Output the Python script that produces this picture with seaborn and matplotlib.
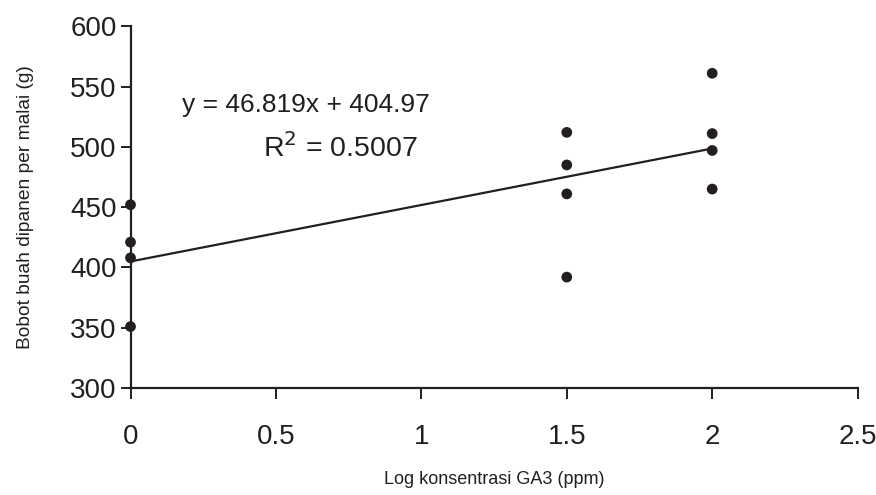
import numpy as np
import pandas as pd
import matplotlib
matplotlib.use("Agg")
import matplotlib.pyplot as plt
import seaborn as sns

# data
log_ga3 = [0, 0, 0, 0, 1.5, 1.5, 1.5, 1.5, 2, 2, 2, 2]
bobot = [452, 421, 408, 351, 512, 485, 461, 392, 561, 511, 497, 465]
slope = 46.819
intercept = 404.97
r_squared = 0.5007
x_ticks = [0, 0.5, 1, 1.5, 2, 2.5]
x_tick_labels = ["0", "0.5", "1", "1.5", "2", "2.5"]
y_ticks = [300, 350, 400, 450, 500, 550, 600]

sns.set_style("ticks")
plt.rcParams["font.family"] = ["Liberation Sans", "DejaVu Sans"]
ink = "#231f20"

df = pd.DataFrame({"x": log_ga3, "y": bobot})
fit_x = np.array([min(log_ga3), max(log_ga3)])
fit = pd.DataFrame({"x": fit_x, "y": slope * fit_x + intercept})

fig = plt.figure(figsize=(8.76, 4.95), dpi=100)
ax = fig.add_axes([0.149, 0.216, 0.830, 0.731])

sns.lineplot(data=fit, x="x", y="y", ax=ax, color=ink, linewidth=1.6, zorder=2)
sns.scatterplot(data=df, x="x", y="y", ax=ax, color=ink, s=60,
                edgecolor="none", zorder=3, clip_on=False)

ax.set_xlim(0, 2.5)
ax.set_ylim(300, 600)
ax.set_xticks(x_ticks)
ax.set_xticklabels(x_tick_labels)
ax.set_yticks(y_ticks)
ax.tick_params(axis="both", labelsize=20, colors=ink, width=1.4)
ax.tick_params(axis="x", length=8, pad=18)
ax.tick_params(axis="y", length=7, pad=3)

for side in ["top", "right"]:
    ax.spines[side].set_visible(False)
for side in ["left", "bottom"]:
    ax.spines[side].set_linewidth(1.6)
    ax.spines[side].set_color(ink)

ax.set_xlabel("Log konsentrasi GA3 (ppm)", fontsize=13, color=ink, labelpad=15)
ax.set_ylabel("Bobot buah dipanen per malai (g)", fontsize=13.8, color=ink, labelpad=26)

ax.text(0.241, 0.783, f"y = {slope}x + {intercept}", transform=ax.transAxes,
        fontsize=19, color=ink, ha="center", va="center")
ax.text(0.288, 0.664, f"R$^2$ = {r_squared}", transform=ax.transAxes,
        fontsize=20.5, color=ink, ha="center", va="center")

fig.savefig("out.png", dpi=100)
